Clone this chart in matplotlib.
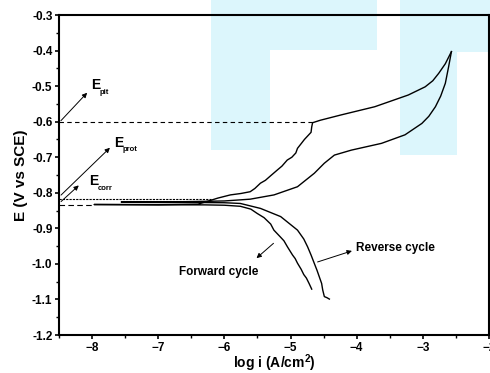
from matplotlib import pyplot as plt
from matplotlib.patches import Rectangle
from matplotlib.ticker import MultipleLocator

# forward scan: cathodic branch up to Ecorr, then anodic branch up to the apex
fwd_logi = [-4.68, -4.72, -4.76, -4.80, -4.84, -4.895, -4.93, -4.97, -5.047,
            -5.10, -5.15, -5.252, -5.30, -5.40, -5.505, -5.60, -5.759, -6.0,
            -6.3, -7.0, -7.97, -7.0, -6.4, -6.22, -6.10, -5.91, -5.75, -5.61,
            -5.54, -5.455, -5.38, -5.30, -5.20, -5.13, -5.05, -4.98, -4.92,
            -4.895, -4.84, -4.79, -4.74, -4.69, -4.68, -4.667, -4.55, -4.235,
            -3.727, -3.22, -2.965, -2.85, -2.76, -2.66, -2.568]
fwd_E = [-1.071, -1.055, -1.040, -1.030, -1.015, -0.998, -0.985, -0.975, -0.952,
         -0.935, -0.925, -0.905, -0.888, -0.870, -0.858, -0.846, -0.838, -0.835,
         -0.834, -0.834, -0.833, -0.833, -0.832, -0.822, -0.815, -0.806, -0.802,
         -0.797, -0.788, -0.773, -0.765, -0.752, -0.736, -0.725, -0.708, -0.700,
         -0.688, -0.675, -0.662, -0.650, -0.640, -0.630, -0.615, -0.603, -0.596,
         -0.581, -0.558, -0.525, -0.502, -0.485, -0.464, -0.437, -0.403]

# reverse scan: from the apex back down through Eprot to the cathodic branch
rev_logi = [-2.568, -2.61, -2.66, -2.73, -2.81, -2.91, -3.015, -3.27, -3.625,
            -4.08, -4.337, -4.49, -4.64, -4.895, -5.25, -5.61, -6.0, -6.6,
            -7.56, -6.6, -6.0, -5.759, -5.454, -5.149, -4.895, -4.80, -4.742,
            -4.69, -4.642, -4.60, -4.566, -4.53, -4.514, -4.489, -4.45, -4.413]
rev_E = [-0.403, -0.445, -0.492, -0.528, -0.558, -0.585, -0.605, -0.637, -0.661,
         -0.680, -0.694, -0.717, -0.745, -0.783, -0.806, -0.818, -0.823, -0.825,
         -0.826, -0.827, -0.828, -0.830, -0.844, -0.867, -0.905, -0.930, -0.952,
         -0.975, -0.998, -1.018, -1.036, -1.055, -1.073, -1.092, -1.095, -1.099]

E_pit = -0.60
E_prot = -0.818
E_corr = -0.833

plt.rcParams['font.family'] = ['Liberation Sans', 'DejaVu Sans']
plt.rcParams['font.weight'] = 'bold'
plt.rcParams['mathtext.fontset'] = 'custom'
plt.rcParams['mathtext.rm'] = 'Liberation Sans:bold'
plt.rcParams['mathtext.bf'] = 'Liberation Sans:bold'

fig = plt.figure(figsize=(4.9, 3.73), dpi=100)

# faint watermark blocks behind the plot
wm = '#dcf6fc'
for x0, y0, w, h in [(0.431, 0.598, 0.120, 0.402), (0.431, 0.866, 0.338, 0.134),
                     (0.816, 0.584, 0.117, 0.416), (0.816, 0.861, 0.184, 0.139)]:
    fig.patches.append(Rectangle((x0, y0), w, h, transform=fig.transFigure,
                                 facecolor=wm, edgecolor='none', zorder=-1))

ax = fig.add_axes([59 / 490, 38 / 373, 430 / 490, 320 / 373])
ax.set_facecolor('none')

ax.plot(fwd_logi, fwd_E, color='black', lw=1.0)
ax.plot(rev_logi, rev_E, color='black', lw=1.0)

ax.plot([-8.5, fwd_logi[43]], [E_pit, E_pit], color='black', lw=0.8,
        dashes=(4, 3))
ax.plot([-8.5, -6.2], [E_prot, E_prot], color='black', lw=0.8, dashes=(2, 1))
ax.plot([-8.5, -7.97], [E_corr, E_corr], color='black', lw=0.8, dashes=(5, 3))

arw = dict(arrowstyle='-|>', color='black', lw=0.7, mutation_scale=7)
ax.annotate('', xy=(-8.046, -0.513), xytext=(-8.5, -0.603), arrowprops=arw)
ax.annotate('', xy=(-7.70, -0.668), xytext=(-8.5, -0.812), arrowprops=arw)
ax.annotate('', xy=(-8.17, -0.774), xytext=(-8.5, -0.830), arrowprops=arw)
ax.annotate('', xy=(-5.546, -0.989), xytext=(-5.226, -0.937), arrowprops=arw)
ax.annotate('', xy=(-4.032, -0.961), xytext=(-4.631, -0.997), arrowprops=arw)

# potential labels: big E with a small lowered subscript
for x, y, sub in [(-8.015, -0.508, 'pit'), (-7.665, -0.671, 'prot'),
                  (-8.046, -0.778, 'corr')]:
    ax.text(x, y, 'E', fontsize=10, va='baseline')
    ax.annotate(sub, xy=(x, y), xytext=(6, -3.3), textcoords='offset points',
                fontsize=5.5, va='baseline')

ax.text(-6.08, -1.022, 'Forward cycle', fontsize=8.5, ha='center', va='center')
ax.text(-4.006, -0.954, 'Reverse cycle', fontsize=8.5, ha='left', va='center')

ax.set_xlim(-8.5, -2.0)
ax.set_ylim(-1.2, -0.3)
ax.xaxis.set_major_locator(MultipleLocator(1))
ax.xaxis.set_minor_locator(MultipleLocator(0.5))
ax.yaxis.set_major_locator(MultipleLocator(0.1))
ax.yaxis.set_minor_locator(MultipleLocator(0.05))
ax.yaxis.set_major_formatter(plt.FormatStrFormatter('%.1f'))
ax.tick_params(which='major', direction='out', length=3.2, width=1.2,
               labelsize=8.5, pad=1.5)
ax.tick_params(which='minor', direction='out', length=2, width=1.0)
for s in ax.spines.values():
    s.set_linewidth(1.5)

ax.set_xlabel(r'log i (A/cm$^\mathbf{2}$)', fontsize=10, fontweight='bold',
              labelpad=-0.5)
ax.set_ylabel('E (V vs SCE)', fontsize=11, fontweight='bold', labelpad=3)

fig.savefig('out.png', dpi=100)
